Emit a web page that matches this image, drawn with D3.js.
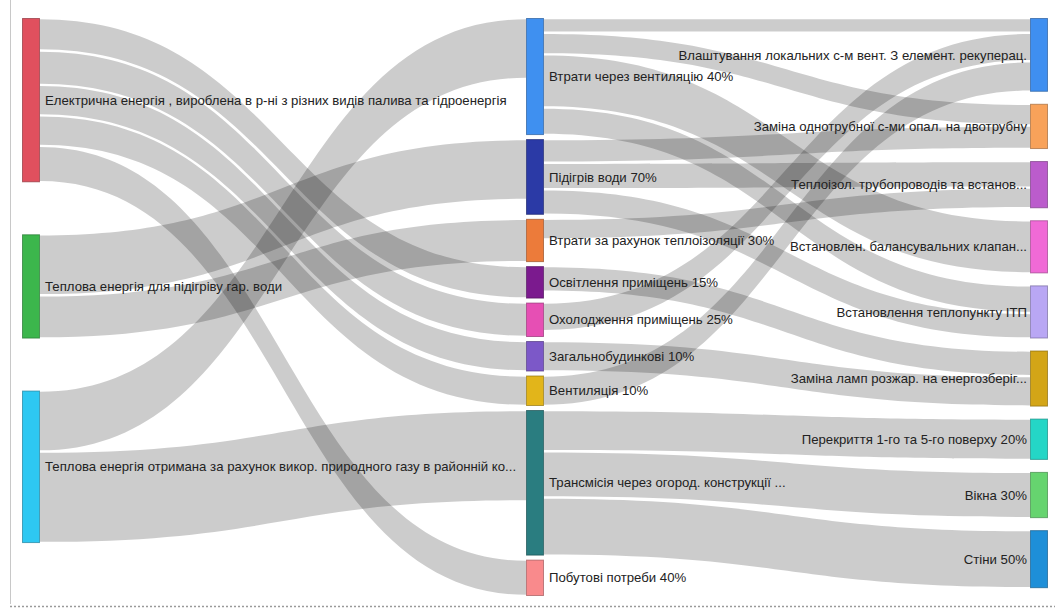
<!DOCTYPE html>
<html><head><meta charset="utf-8">
<script src="https://cdn.jsdelivr.net/npm/d3@7"></script>
<style>
body{margin:0;background:#fff}
svg{display:block}
text{font-family:Arial,"Liberation Sans",sans-serif}
</style>
</head><body>
<svg id="chart" width="1055" height="610"></svg>
<script>
// ---------- DATA ----------
const sourceNodes = [
  "Електрична енергія , вироблена в р-ні з різних видів палива та гідроенергія",
  "Теплова енергія для підігріву гар. води",
  "Теплова енергія отримана за рахунок викор. природного газу в районній ко..."
];
const middleNodes = [
  "Втрати через вентиляцію 40%",
  "Підігрів води 70%",
  "Втрати за рахунок теплоізоляції 30%",
  "Освітлення приміщень 15%",
  "Охолодження приміщень 25%",
  "Загальнобудинкові 10%",
  "Вентиляція 10%",
  "Трансмісія через огород. конструкції ...",
  "Побутові потреби 40%"
];
const targetNodes = [
  "Влаштування локальних с-м вент. З елемент. рекуперац.",
  "Заміна однотрубної с-ми опал. на двотрубну",
  "Теплоізол. трубопроводів та встанов...",
  "Встановлен. балансувальних клапан...",
  "Встановлення теплопункту ІТП",
  "Заміна ламп розжар. на енергозберіг...",
  "Перекриття 1-го та 5-го поверху 20%",
  "Вікна 30%",
  "Стіни 50%"
];
// links: source index, target index (into the combined node list), value
const linkSources = [0,0,0,0,0, 1,1, 2,2, 3,3,3,3, 4,4,4, 5, 6, 8, 7, 9, 10,10,10];
const linkTargets = [6,7,8,9,11, 4,5, 3,10, 12,13,15,16, 13,14,16, 14, 17, 17, 12, 12, 18,19,20];
const linkValues  = [33,35,31,31,37, 62,44, 62,93, 15,22,54,28, 24,27,26, 21, 26, 31, 29, 31, 42,47,59];

// ---------- STYLE ----------
const nodeColors = [
  "#e0505e","#3cb64c","#2ec8f2",
  "#3f90f0","#2b3aa6","#ec7b3a","#7b1a8e","#e64fb4","#7c58c8","#e2b51a","#2a7d80","#f98a8c",
  "#3f8ff0","#f8a25a","#bb5ccc","#f06ad6","#b9a7f4","#d3a517","#24d6c6","#66d46f","#1e8fd8"
];
const W = 1055, H = 610;
const yTop = 18, yBottom = 596;
const colPad = [52, 4, 12];
const nodeWidth = 18;
const inset = 1.2;

const svg = d3.select("#chart");

// frame remnants of the original screenshot
svg.append("line").attr("x1",10.5).attr("x2",10.5).attr("y1",0).attr("y2",604)
  .attr("stroke","#c8c8c8").attr("stroke-width",1);
svg.append("line").attr("x1",10).attr("x2",W).attr("y1",606.5).attr("y2",606.5)
  .attr("stroke","#9a9a9a").attr("stroke-width",1.5).attr("stroke-dasharray","2,2");

// ---------- LAYOUT ----------
const columns = [sourceNodes, middleNodes, targetNodes];
const nodes = [];
columns.forEach((col, ci) => col.forEach(name => nodes.push({name, col: ci, sourceLinks: [], targetLinks: []})));
nodes.forEach((n,i)=> n.color = nodeColors[i]);
const links = linkSources.map((s,i) => ({source: nodes[s], target: nodes[linkTargets[i]], value: linkValues[i]}));
links.forEach(l => { l.source.sourceLinks.push(l); l.target.targetLinks.push(l); });
nodes.forEach(n => n.value = Math.max(d3.sum(n.sourceLinks, l=>l.value), d3.sum(n.targetLinks, l=>l.value)));

const colNodes = [0,1,2].map(c => nodes.filter(n => n.col === c));
const ky = d3.min(colNodes, (cn, c) => (yBottom - yTop - colPad[c]*(cn.length-1)) / d3.sum(cn, n=>n.value));
const vScale = d3.scaleLinear().domain([0,1]).range([0,ky]);
const xScale = d3.scaleLinear().domain([0,2]).range([22, 1030]);

colNodes.forEach((cn, c) => {
  let y = yTop;
  cn.forEach(n => {
    n.x0 = xScale(c); n.x1 = n.x0 + nodeWidth;
    n.y0 = y; n.y1 = y + vScale(n.value);
    y = n.y1 + colPad[c];
  });
});
nodes.forEach(n => {
  let y = n.y0;
  n.sourceLinks.sort((a,b)=>a.target.y0-b.target.y0).forEach(l => { l.sy0 = y; y += vScale(l.value); l.sy1 = y; });
  y = n.y0;
  n.targetLinks.sort((a,b)=>a.source.y0-b.source.y0).forEach(l => { l.ty0 = y; y += vScale(l.value); l.ty1 = y; });
});

function linkPath(l){
  const x0 = l.source.x1, x1 = l.target.x0, xm = (x0+x1)/2;
  const a = l.sy0+inset, b = l.sy1-inset, c = l.ty0+inset, d = l.ty1-inset;
  return `M${x0},${a}C${xm},${a} ${xm},${c} ${x1},${c}L${x1},${d}C${xm},${d} ${xm},${b} ${x0},${b}Z`;
}

// ---------- DRAW ----------
svg.append("g").selectAll("path").data(links).join("path")
  .attr("d", linkPath)
  .attr("fill", "#000")
  .attr("fill-opacity", 0.2);

svg.append("g").selectAll("rect").data(nodes).join("rect")
  .attr("x", d=>d.x0+0.5).attr("y", d=>d.y0+0.5)
  .attr("width", nodeWidth-1).attr("height", d=>Math.max(1,d.y1-d.y0-1))
  .attr("fill", d=>d.color)
  .attr("stroke", d=>d3.color(d.color).darker(1.2))
  .attr("stroke-opacity",0.7)
  .attr("stroke-width",1);

svg.append("g").selectAll("text").data(nodes).join("text")
  .attr("x", d => d.col === 2 ? d.x0 - 3 : d.x1 + 5)
  .attr("y", d => (d.y0+d.y1)/2)
  .attr("dy", "0.35em")
  .attr("text-anchor", d => d.col === 2 ? "end" : "start")
  .attr("font-size", 13.2)
  .attr("fill", "#222")
  .text(d => d.name);
</script>
</body></html>
